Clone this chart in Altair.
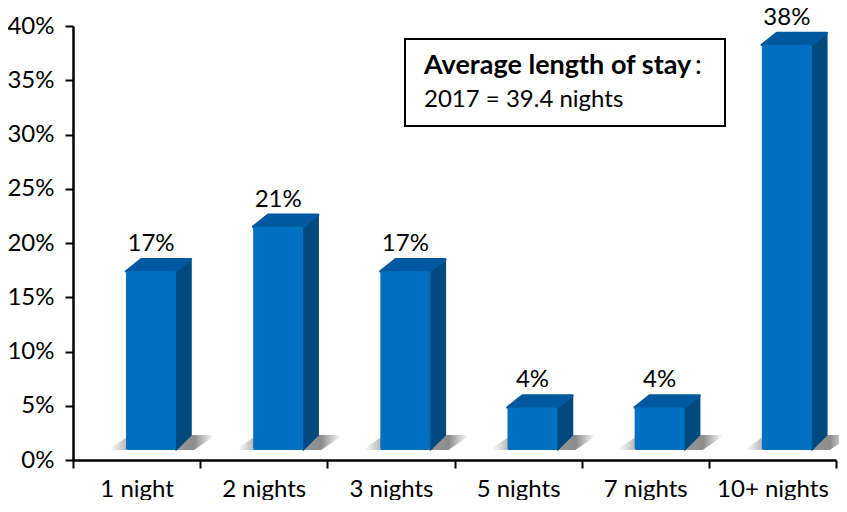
import json
import altair as alt
import pandas as pd

categories = ["1 night", "2 nights", "3 nights", "5 nights", "7 nights", "10+ nights"]
values = [16.8, 21, 16.8, 4, 4, 38.1]
FONT = "Lato"

PW, PH = 763, 434
XU = PW / 6
YU = PH / 40
floor = 10 / YU
k = 0.98
left = 53 / XU
bw = 50 / XU
dx = 15 / XU
dy_bot = 15 / YU
dy_top = 12 / YU

front, side, top, shadow = [], [], [], []
for i, (c, v) in enumerate(zip(categories, values)):
    L = i + left
    R = L + bw
    T = floor + v * k
    front.append(dict(c=c, x=L, x2=R, y=floor, y2=T))
    side += [dict(c=c, x=R, y=floor, y2=T), dict(c=c, x=R + dx, y=floor + dy_bot, y2=T + dy_top)]
    top += [
        dict(c=c, x=L, y=T, y2=T),
        dict(c=c, x=L + dx, y=T, y2=T + dy_top),
        dict(c=c, x=R, y=T, y2=T + dy_top),
        dict(c=c, x=R + dx, y=T + dy_top, y2=T + dy_top),
    ]
    s = 18 / XU
    shadow += [
        dict(c=c, x=L - s, y=floor, y2=floor),
        dict(c=c, x=L - s + 22 / XU, y=floor, y2=floor + dy_bot),
        dict(c=c, x=R + s, y=floor, y2=floor + dy_bot),
        dict(c=c, x=R + s + 22 / XU, y=floor + dy_bot, y2=floor + dy_bot),
    ]

labels = pd.DataFrame(
    [dict(c=c, x=i + left + bw / 2, y=floor + v * k + dy_top, t=f"{v:.0f}%")
     for i, (c, v) in enumerate(zip(categories, values))]
)

xs = alt.Scale(domain=[0, 6], range=[0, PW], nice=False, zero=False)
ys = alt.Scale(domain=[0, 40], range=[PH, 0], nice=False)

y_axis = alt.Axis(
    values=list(range(0, 45, 5)), labelExpr="datum.value + '%'", title=None, grid=False,
    labelFont=FONT, labelFontSize=24, labelColor="#000000", labelPadding=11,
    tickSize=8, tickWidth=2, tickColor="#000000", domainColor="#000000", domainWidth=2.5,
)
x_ticks = alt.Axis(
    values=list(range(0, 7)), labels=False, title=None, grid=False, orient="bottom",
    tickSize=8, tickWidth=2, tickColor="#000000", domainColor="#000000", domainWidth=2.5,
)
x_labels = alt.Axis(
    values=[i + 0.5 for i in range(6)],
    labelExpr=json.dumps(categories) + "[round(datum.value - 0.5)]",
    title=None, grid=False, orient="bottom", ticks=False, domain=False,
    labelFont=FONT, labelFontSize=24, labelColor="#000000", labelPadding=17, labelFlush=False,
    labelOverlap=False,
)

shadow_fill = alt.Gradient(
    gradient="linear", x1=0, x2=1, y1=0, y2=0,
    stops=[
        alt.GradientStop(offset=0.02, color="#ffffff"),
        alt.GradientStop(offset=0.18, color="#b4b4b4"),
        alt.GradientStop(offset=0.8, color="#8c8c8c"),
        alt.GradientStop(offset=0.98, color="#ffffff"),
    ],
)

shadow_layer = alt.Chart(pd.DataFrame(shadow)).mark_area(color=shadow_fill, clip=False).encode(
    x=alt.X("x:Q", scale=xs, axis=x_ticks),
    y=alt.Y("y:Q", scale=ys, axis=y_axis),
    y2="y2:Q",
    detail="c:N",
)
side_layer = alt.Chart(pd.DataFrame(side)).mark_area(
    color="#004A7F", stroke="#004A7F", strokeWidth=1.5, strokeJoin="round"
).encode(x=alt.X("x:Q", scale=xs, axis=None), y=alt.Y("y:Q", scale=ys, axis=y_axis), y2="y2:Q", detail="c:N")
top_layer = alt.Chart(pd.DataFrame(top)).mark_area(
    color="#0059A0", stroke="#0059A0", strokeWidth=2.5, strokeJoin="round"
).encode(x=alt.X("x:Q", scale=xs, axis=None), y=alt.Y("y:Q", scale=ys, axis=y_axis), y2="y2:Q", detail="c:N")
front_layer = alt.Chart(pd.DataFrame(front)).mark_bar(color="#0070C0", cornerRadius=2).encode(
    x=alt.X("x:Q", scale=xs, axis=x_labels), x2="x2:Q",
    y=alt.Y("y:Q", scale=ys, axis=y_axis), y2="y2:Q",
)
text_layer = alt.Chart(labels).mark_text(
    font=FONT, fontSize=24, color="#000000", baseline="bottom", dy=-3, clip=False
).encode(x=alt.X("x:Q", scale=xs, axis=None), y=alt.Y("y:Q", scale=ys, axis=y_axis), text="t:N")

one = pd.DataFrame({"a": [0]})
box = alt.Chart(one).mark_rect(fill="#ffffff", stroke="#000000", strokeWidth=2).encode(
    x=alt.value(332), x2=alt.value(652), y=alt.value(13), y2=alt.value(100)
)
box_title = alt.Chart(one).mark_text(
    text="Average length of stay", font=FONT, fontSize=27, fontWeight="bold", align="left", color="#000000"
).encode(x=alt.value(351), y=alt.value(40))
box_colon = alt.Chart(one).mark_text(
    text=":", font=FONT, fontSize=27, align="left", color="#000000"
).encode(x=alt.value(622), y=alt.value(40))
box_line = alt.Chart(one).mark_text(
    text="2017 = 39.4 nights", font=FONT, fontSize=24, align="left", color="#000000"
).encode(x=alt.value(351), y=alt.value(74))

chart = (
    alt.layer(shadow_layer, side_layer, top_layer, front_layer, text_layer, box, box_title, box_colon, box_line)
    .resolve_axis(x="independent")
    .properties(
        width=PW, height=PH,
        padding={"left": 65, "top": 18, "right": 3, "bottom": 40},
        autosize=alt.AutoSizeParams(type="none"),
    )
    .configure_view(stroke=None)
)

chart.save("out.html", embed_options={"renderer": "svg", "actions": False})
